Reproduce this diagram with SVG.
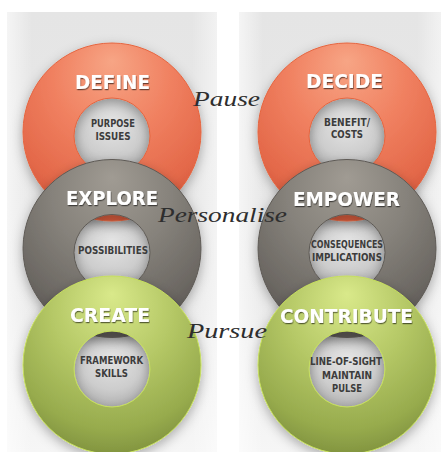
<svg xmlns="http://www.w3.org/2000/svg" width="441" height="452" viewBox="0 0 441 452">
<defs>
<linearGradient id="panel" x1="0" y1="0" x2="0" y2="1">
<stop offset="0" stop-color="#e5e5e5"/>
<stop offset="0.6" stop-color="#e9e9e9"/>
<stop offset="1" stop-color="#f6f6f6"/>
</linearGradient>
<linearGradient id="panelEdge" x1="0" y1="0" x2="1" y2="0">
<stop offset="0" stop-color="#ffffff" stop-opacity="0.6"/>
<stop offset="0.12" stop-color="#ffffff" stop-opacity="0"/>
<stop offset="0.88" stop-color="#ffffff" stop-opacity="0"/>
<stop offset="1" stop-color="#ffffff" stop-opacity="0.5"/>
</linearGradient>
<radialGradient id="hole" cx="0.5" cy="0.35" r="0.7">
<stop offset="0" stop-color="#e4e4e4"/>
<stop offset="0.6" stop-color="#cdcdcd"/>
<stop offset="1" stop-color="#acacac"/>
</radialGradient>
<radialGradient id="orange" cx="0.5" cy="0.3" r="0.75" fx="0.5" fy="0.1">
<stop offset="0" stop-color="#f7a585"/>
<stop offset="0.45" stop-color="#f08060"/>
<stop offset="0.8" stop-color="#e4694a"/>
<stop offset="1" stop-color="#cf5335"/>
</radialGradient>
<radialGradient id="grey" cx="0.5" cy="0.3" r="0.75" fx="0.5" fy="0.1">
<stop offset="0" stop-color="#a09b93"/>
<stop offset="0.45" stop-color="#86827b"/>
<stop offset="0.8" stop-color="#6c6863"/>
<stop offset="1" stop-color="#55524e"/>
</radialGradient>
<radialGradient id="green" cx="0.5" cy="0.3" r="0.75" fx="0.5" fy="0.1">
<stop offset="0" stop-color="#d9e98a"/>
<stop offset="0.45" stop-color="#b5c866"/>
<stop offset="0.8" stop-color="#97ab4d"/>
<stop offset="1" stop-color="#7b8d3b"/>
</radialGradient>
<filter id="ringShadow" x="-20%" y="-20%" width="140%" height="150%">
<feDropShadow dx="0" dy="4" stdDeviation="6" flood-color="#000" flood-opacity="0.3"/>
</filter>
<filter id="txtShadow" x="-10%" y="-30%" width="120%" height="170%">
<feDropShadow dx="0.6" dy="1.2" stdDeviation="0.6" flood-color="#000" flood-opacity="0.55"/>
</filter>
</defs>
<style>
.title{font-family:"DejaVu Sans","Liberation Sans",sans-serif;font-weight:bold;font-size:20px;fill:#ffffff;text-anchor:middle;filter:url(#txtShadow)}
.sub{font-family:"DejaVu Sans","Liberation Sans",sans-serif;font-weight:bold;font-size:10px;fill:#3c3c3c;text-anchor:middle}
.script{font-family:"Liberation Serif","DejaVu Serif",serif;font-style:italic;font-size:22px;fill:#2e2e2e;text-anchor:start}
.ring{fill-rule:evenodd;filter:url(#ringShadow);stroke-width:1}
.o{fill:url(#orange);stroke:#e6653f}
.g{fill:url(#grey);stroke:#5e5a55}
.l{fill:url(#green);stroke:#c6df5c}
.hole{fill:url(#hole)}
</style>
<rect x="0" y="0" width="441" height="452" fill="#ffffff"/>
<g id="panels">
<rect x="7" y="12" width="210" height="440" fill="url(#panel)"/>
<rect x="7" y="12" width="210" height="440" fill="url(#panelEdge)"/>
<rect x="239" y="12" width="202" height="440" fill="url(#panel)"/>
<rect x="239" y="12" width="202" height="440" fill="url(#panelEdge)"/>
</g>
<g id="holes">
<circle class="hole" cx="112" cy="136" r="38"/>
<circle class="hole" cx="112" cy="252.5" r="38"/>
<circle class="hole" cx="112" cy="369" r="38"/>
<circle class="hole" cx="347" cy="136" r="38"/>
<circle class="hole" cx="347" cy="252.5" r="38"/>
<circle class="hole" cx="347" cy="369" r="38"/>
</g>
<g id="define">
<path class="ring o" d="M23,132 a89,89 0 1,0 178,0 a89,89 0 1,0 -178,0Z M74,136 a38,38 0 1,0 76,0 a38,38 0 1,0 -76,0Z"/>
<text class="title" x="112.5" y="89" textLength="75" lengthAdjust="spacingAndGlyphs">DEFINE</text>
<text class="sub" x="113" y="127" textLength="44" lengthAdjust="spacingAndGlyphs">PURPOSE</text>
<text class="sub" x="113" y="140" textLength="35" lengthAdjust="spacingAndGlyphs">ISSUES</text>
</g>
<g id="decide">
<path class="ring o" d="M258,132 a89,89 0 1,0 178,0 a89,89 0 1,0 -178,0Z M309,136 a38,38 0 1,0 76,0 a38,38 0 1,0 -76,0Z"/>
<text class="title" x="344.5" y="88" textLength="77" lengthAdjust="spacingAndGlyphs">DECIDE</text>
<text class="sub" x="347" y="126" textLength="46" lengthAdjust="spacingAndGlyphs">BENEFIT/</text>
<text class="sub" x="347" y="138" textLength="32" lengthAdjust="spacingAndGlyphs">COSTS</text>
</g>
<g id="explore">
<path class="ring g" d="M23,248.5 a89,89 0 1,0 178,0 a89,89 0 1,0 -178,0Z M74,252.5 a38,38 0 1,0 76,0 a38,38 0 1,0 -76,0Z"/>
<text class="title" x="112" y="205" textLength="92" lengthAdjust="spacingAndGlyphs">EXPLORE</text>
<text class="sub" x="113" y="254" textLength="70" lengthAdjust="spacingAndGlyphs">POSSIBILITIES</text>
</g>
<g id="empower">
<path class="ring g" d="M258,248.5 a89,89 0 1,0 178,0 a89,89 0 1,0 -178,0Z M309,252.5 a38,38 0 1,0 76,0 a38,38 0 1,0 -76,0Z"/>
<text class="title" x="346.5" y="206" textLength="107" lengthAdjust="spacingAndGlyphs">EMPOWER</text>
<text class="sub" x="347" y="248" textLength="72" lengthAdjust="spacingAndGlyphs">CONSEQUENCES</text>
<text class="sub" x="347" y="261" textLength="70" lengthAdjust="spacingAndGlyphs">IMPLICATIONS</text>
</g>
<g id="create">
<path class="ring l" d="M23,365 a89,89 0 1,0 178,0 a89,89 0 1,0 -178,0Z M74,369 a38,38 0 1,0 76,0 a38,38 0 1,0 -76,0Z"/>
<text class="title" x="110" y="322" textLength="80" lengthAdjust="spacingAndGlyphs">CREATE</text>
<text class="sub" x="111.5" y="364" textLength="63" lengthAdjust="spacingAndGlyphs">FRAMEWORK</text>
<text class="sub" x="111.5" y="377" textLength="33" lengthAdjust="spacingAndGlyphs">SKILLS</text>
</g>
<g id="contribute">
<path class="ring l" d="M258,365 a89,89 0 1,0 178,0 a89,89 0 1,0 -178,0Z M309,369 a38,38 0 1,0 76,0 a38,38 0 1,0 -76,0Z"/>
<text class="title" x="346.5" y="323" textLength="133" lengthAdjust="spacingAndGlyphs">CONTRIBUTE</text>
<text class="sub" x="346" y="365" textLength="72" lengthAdjust="spacingAndGlyphs">LINE-OF-SIGHT</text>
<text class="sub" x="347" y="379" textLength="50" lengthAdjust="spacingAndGlyphs">MAINTAIN</text>
<text class="sub" x="347" y="392" textLength="30" lengthAdjust="spacingAndGlyphs">PULSE</text>
</g>
<g id="connectors">
<text class="script" x="193" y="106" textLength="67" lengthAdjust="spacingAndGlyphs">Pause</text>
<text class="script" x="158" y="222" textLength="129" lengthAdjust="spacingAndGlyphs">Personalise</text>
<text class="script" x="187" y="338" textLength="80" lengthAdjust="spacingAndGlyphs">Pursue</text>
</g>
</svg>
